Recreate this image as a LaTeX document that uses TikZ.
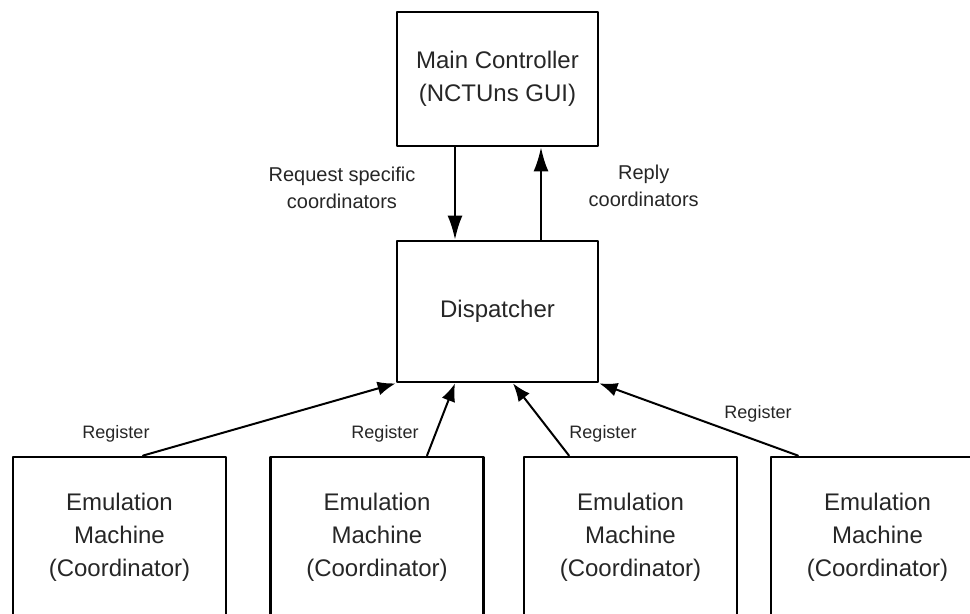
\documentclass[tikz,border=0pt]{standalone}
\usepackage{fontspec}
\setmainfont{Liberation Sans}
\usepackage{tikz}
\usetikzlibrary{arrows.meta}

\tikzset{
  box/.style={draw, line width=1.4pt, align=center, text=black!85,
    font=\fontsize{12}{16.5}\selectfont},
  link/.style={line width=1pt, -{Latex[length=12pt,width=7.5pt]}},
  reglink/.style={line width=1pt, -{Latex[length=9pt,width=7pt]}},
  lbl/.style={text=black!85, align=center, font=\fontsize{10}{13.5}\selectfont},
  reg/.style={text=black!85, font=\fontsize{9}{11}\selectfont}
}

\begin{document}
\begin{tikzpicture}[x=0.5pt,y=-0.5pt,line cap=round,line join=round]
        \useasboundingbox (0,0) rectangle (970,614);
        \clip (0,0) rectangle (970,614);

        \node[box, minimum width=100.5pt, minimum height=67pt] (main) at (497.5,79) {Main Controller\\(NCTUns GUI)};
        \node[box, minimum width=100.5pt, minimum height=70.5pt] (disp) at (497.5,311.5) {Dispatcher};

        \node[box, minimum width=106.5pt, minimum height=80pt] (emuA) at (119.5,537) {Emulation\\Machine\\(Coordinator)};
        \node[box, minimum width=106.5pt, minimum height=80pt] (emuB) at (377,537) {Emulation\\Machine\\(Coordinator)};
        \node[box, minimum width=106.5pt, minimum height=80pt] (emuC) at (630.5,537) {Emulation\\Machine\\(Coordinator)};
        \node[box, minimum width=106.5pt, minimum height=80pt] (emuD) at (877.5,537) {Emulation\\Machine\\(Coordinator)};

        \draw[link] ([xshift=-21.25pt]main.south) -- ([xshift=-21.25pt]disp.north)
            node[lbl, midway, left=16pt, yshift=3pt] {Request specific\\coordinators};
        \draw[link] ([xshift=21.75pt]disp.north) -- ([xshift=21.75pt]main.south)
            node[lbl, midway, right=20pt, yshift=4pt] {Reply\\coordinators};

        \draw[reglink] ([xshift=11.75pt]emuA.north) -- (disp.south west)
            node[reg, at start, xshift=-13.5pt, yshift=11pt] {Register};
        \draw[reglink] ([xshift=25pt]emuB.north) -- ([xshift=-21.25pt]disp.south)
            node[reg, at start, xshift=-21pt, yshift=11pt] {Register};
        \draw[reglink] ([xshift=-30.75pt]emuC.north) -- ([xshift=7.75pt]disp.south)
            node[reg, at start, xshift=17pt, yshift=11pt] {Register};
        \draw[reglink] ([xshift=-39.75pt]emuD.north) -- (disp.south east)
            node[reg, at start, xshift=-20pt, yshift=21pt] {Register};
    \end{tikzpicture}
\end{document}
